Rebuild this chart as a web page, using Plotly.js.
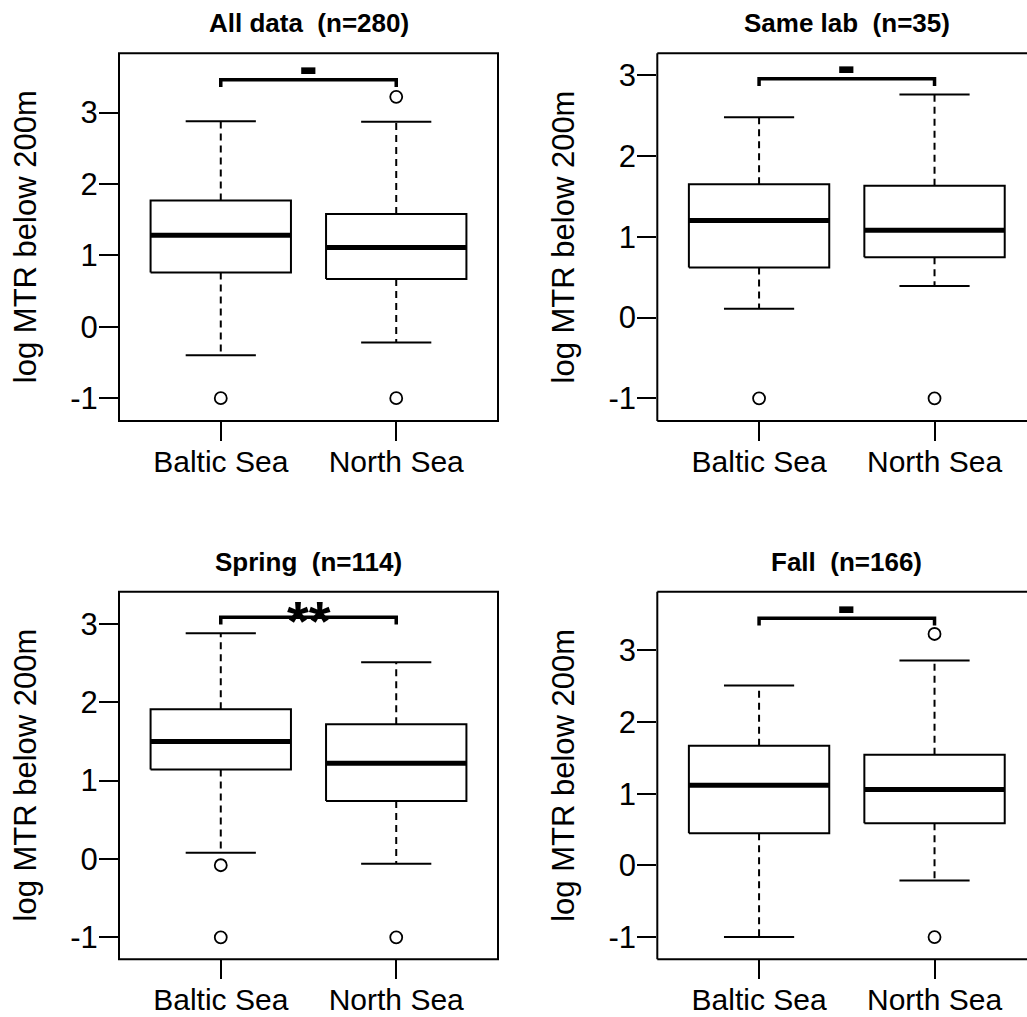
<!DOCTYPE html>
<html>
<head>
<meta charset="utf-8">
<script src="https://cdn.plot.ly/plotly-3.0.1.min.js"></script>
<style>html,body{margin:0;padding:0;background:#fff;}#chart{width:1027px;height:1017px;}</style>
</head>
<body>
<div id="chart"></div>
<script>
// ---------- data ----------
const groups = ["Baltic Sea", "North Sea"];
const panelTitles = ["All data\u00A0\u00A0(n=280)", "Same lab\u00A0\u00A0(n=35)", "Spring\u00A0\u00A0(n=114)", "Fall\u00A0\u00A0(n=166)"];
const yTickVals = [-1, 0, 1, 2, 3];
const yAxisTitle = "log MTR below 200m";

// All data
const allLower  = [-0.40, -0.22];
const allQ1     = [0.76, 0.67];
const allMedian = [1.28, 1.11];
const allQ3     = [1.77, 1.58];
const allUpper  = [2.88, 2.87];
const allOutliers = [[-1], [3.22, -1]];

// Same lab
const labLower  = [0.11, 0.39];
const labQ1     = [0.62, 0.745];
const labMedian = [1.20, 1.08];
const labQ3     = [1.65, 1.63];
const labUpper  = [2.48, 2.76];
const labOutliers = [[-1], [-1]];

// Spring
const springLower  = [0.08, -0.06];
const springQ1     = [1.14, 0.74];
const springMedian = [1.50, 1.22];
const springQ3     = [1.91, 1.72];
const springUpper  = [2.88, 2.51];
const springOutliers = [[-0.08, -1], [-1]];

// Fall
const fallLower  = [-1.00, -0.21];
const fallQ1     = [0.45, 0.59];
const fallMedian = [1.12, 1.06];
const fallQ3     = [1.67, 1.545];
const fallUpper  = [2.51, 2.86];
const fallOutliers = [[], [3.23, -1]];

// significance brackets
const sigLabels = ["-", "-", "**", "-"];
const bracketY  = [3.46, 2.955, 3.085, 3.45];

// ---------- layout / styling ----------
const panels = [
  {lower: allLower, q1: allQ1, med: allMedian, q3: allQ3, upper: allUpper, out: allOutliers},
  {lower: labLower, q1: labQ1, med: labMedian, q3: labQ3, upper: labUpper, out: labOutliers},
  {lower: springLower, q1: springQ1, med: springMedian, q3: springQ3, upper: springUpper, out: springOutliers},
  {lower: fallLower, q1: fallQ1, med: fallMedian, q3: fallQ3, upper: fallUpper, out: fallOutliers}
];
const W = 1027, H = 1017;
const xDomains = [[119/W, 498/W], [657.3/W, 1], [119/W, 498/W], [657.3/W, 1]];
const yDomains = [[1-421/H, 1-53.3/H], [1-421/H, 1-53.3/H], [1-959.3/H, 1-591.7/H], [1-959.3/H, 1-591.7/H]];
const xRanges = [[0.42, 2.58], [0.42, 2.527], [0.42, 2.58], [0.42, 2.527]];
const yRanges = [[-1.32, 3.83], [-1.28, 3.27], [-1.28, 3.41], [-1.31, 3.82]];
const fullFrame = [true, false, true, false];
const sigShift = {"-": 14, "**": -3};

const FONT = "'Liberation Sans', Arial, sans-serif";
const BLACK = "#000000";
const boxHalf = 0.4, capHalf = 0.2;

const traces = [];
const shapes = [];
const annotations = [];
const layout = {
  width: W, height: H,
  margin: {l: 0, r: 0, t: 0, b: 0},
  paper_bgcolor: "#ffffff", plot_bgcolor: "#ffffff",
  showlegend: false, hovermode: false,
  font: {family: FONT, color: BLACK}
};

panels.forEach((p, k) => {
  const sfx = k === 0 ? "" : String(k + 1);
  const xa = "x" + sfx, ya = "y" + sfx;
  layout["xaxis" + sfx] = {
    domain: xDomains[k], range: xRanges[k], anchor: ya,
    tickmode: "array", tickvals: [1, 2], ticktext: groups,
    ticks: "outside", ticklen: 19, tickwidth: 2, tickcolor: BLACK,
    ticklabelstandoff: -5,
    showgrid: false, zeroline: false, showline: false,
    tickfont: {family: FONT, size: 30, color: BLACK}, fixedrange: true
  };
  layout["yaxis" + sfx] = {
    domain: yDomains[k], range: yRanges[k], anchor: xa,
    tickmode: "array", tickvals: yTickVals, ticktext: yTickVals.map(String),
    ticks: "outside", ticklen: 19, tickwidth: 2, tickcolor: BLACK,
    ticklabelstandoff: -5,
    showgrid: false, zeroline: false, showline: false,
    tickfont: {family: FONT, size: 31, color: BLACK}, fixedrange: true
  };

  // frame
  const lineStyle = {color: BLACK, width: 2};
  if (fullFrame[k]) {
    shapes.push({type: "rect", xref: xa + " domain", yref: ya + " domain", x0: 0, x1: 1, y0: 0, y1: 1, line: lineStyle, layer: "above"});
  } else {
    shapes.push({type: "line", xref: xa + " domain", yref: ya + " domain", x0: 0, x1: 1, y0: 1, y1: 1, line: lineStyle, layer: "above"});
    shapes.push({type: "line", xref: xa + " domain", yref: ya + " domain", x0: 0, x1: 0, y0: 0, y1: 1, line: lineStyle, layer: "above"});
    shapes.push({type: "line", xref: xa + " domain", yref: ya + " domain", x0: 0, x1: 1, y0: 0, y1: 0, line: lineStyle, layer: "above"});
  }

  groups.forEach((g, i) => {
    const c = i + 1;
    // whiskers (dashed)
    traces.push({type: "scatter", mode: "lines", xaxis: xa, yaxis: ya,
      x: [c, c, null, c, c], y: [p.q3[i], p.upper[i], null, p.q1[i], p.lower[i]],
      line: {color: BLACK, width: 2, dash: "7px,5px"}, hoverinfo: "skip"});
    // caps
    traces.push({type: "scatter", mode: "lines", xaxis: xa, yaxis: ya,
      x: [c - capHalf, c + capHalf, null, c - capHalf, c + capHalf],
      y: [p.upper[i], p.upper[i], null, p.lower[i], p.lower[i]],
      line: {color: BLACK, width: 2}, hoverinfo: "skip"});
    // box
    traces.push({type: "scatter", mode: "lines", xaxis: xa, yaxis: ya,
      x: [c - boxHalf, c + boxHalf, c + boxHalf, c - boxHalf, c - boxHalf],
      y: [p.q1[i], p.q1[i], p.q3[i], p.q3[i], p.q1[i]],
      fill: "toself", fillcolor: "#ffffff",
      line: {color: BLACK, width: 2}, hoverinfo: "skip"});
    // median
    traces.push({type: "scatter", mode: "lines", xaxis: xa, yaxis: ya,
      x: [c - boxHalf, c + boxHalf], y: [p.med[i], p.med[i]],
      line: {color: BLACK, width: 5}, hoverinfo: "skip"});
    // outliers
    if (p.out[i].length) {
      traces.push({type: "scatter", mode: "markers", xaxis: xa, yaxis: ya,
        x: p.out[i].map(() => c), y: p.out[i],
        marker: {symbol: "circle-open", size: 12, color: BLACK, line: {width: 1.8, color: BLACK}},
        hoverinfo: "skip"});
    }
  });

  // significance bracket
  const by = bracketY[k];
  const drop = (yRanges[k][1] - yRanges[k][0]) * 0.02;
  traces.push({type: "scatter", mode: "lines", xaxis: xa, yaxis: ya,
    x: [1, 1, 2, 2], y: [by - drop, by, by, by - drop],
    line: {color: BLACK, width: 3.5, shape: "linear"}, hoverinfo: "skip"});
  annotations.push({xref: xa, yref: ya, x: 1.5, y: by, text: "<b>" + sigLabels[k] + "</b>",
    showarrow: false, xanchor: "center", yanchor: "middle", yshift: sigShift[sigLabels[k]],
    font: {family: FONT, size: 56, color: BLACK}});

  // panel title
  annotations.push({xref: xa + " domain", yref: ya + " domain", x: fullFrame[k] ? 0.5 : 0.5 * (1 + 9 / 370), y: 1,
    yshift: 30, xanchor: "center", yanchor: "middle", showarrow: false,
    text: "<b>" + panelTitles[k] + "</b>", font: {family: FONT, size: 26, color: BLACK}});

  // y-axis title
  annotations.push({xref: xa + " domain", yref: ya + " domain", x: 0, y: 0.5, xshift: -94,
    xanchor: "center", yanchor: "middle", showarrow: false, textangle: -90,
    text: yAxisTitle, font: {family: FONT, size: 31, color: BLACK}});
});

layout.shapes = shapes;
layout.annotations = annotations;

Plotly.newPlot("chart", traces, layout, {staticPlot: true, displayModeBar: false});
</script>
</body>
</html>
